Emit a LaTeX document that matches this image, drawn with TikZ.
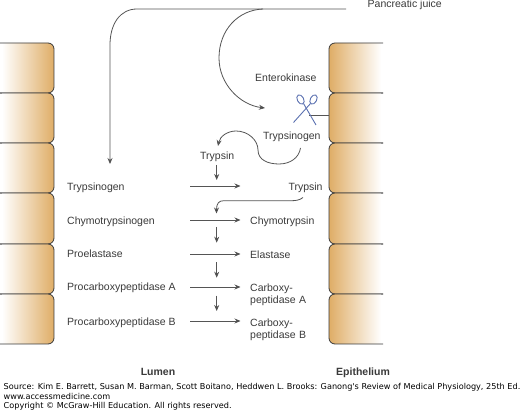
\documentclass[tikz,border=0pt]{standalone}
\usepackage{fontspec}
\setmainfont{Liberation Sans}
\newfontfamily\srcfont{DejaVu Sans}
\usetikzlibrary{arrows.meta}
\definecolor{tan}{HTML}{DFAD66}
\definecolor{ink}{HTML}{3A3A3A}
\definecolor{linec}{HTML}{555555}
\definecolor{sciss}{HTML}{5A70B0}
\newcommand{\lcell}[2]{%
  \begin{scope}
  \clip[rounded corners=6pt] (-12,#1) rectangle (54,#2);
  \shade[left color=white,right color=tan] (2,#1) rectangle (54,#2);
  \end{scope}
  \draw[cellline,rounded corners=6pt] (-12,#1) -- (54,#1) -- (54,#2) -- (-12,#2);}
\newcommand{\rcell}[2]{%
  \begin{scope}
  \clip[rounded corners=6pt] (329,#1) rectangle (395,#2);
  \shade[left color=tan,right color=white] (329,#1) rectangle (381,#2);
  \end{scope}
  \draw[cellline,rounded corners=6pt] (383,#1) -- (329,#1) -- (329,#2) -- (383,#2);}
\tikzset{
  cellline/.style={draw=ink,line width=0.8pt},
  lab/.style={font=\fontsize{10.5}{12.6}\selectfont,text=ink,inner sep=0pt},
  labl/.style={lab,anchor=base west,align=left},
  labtwo/.style={lab,anchor=north west,align=left,text width=70pt},
  flow/.style={draw=linec,line width=0.8pt,-{Stealth[length=6pt,width=5pt,fill=black]}},
  plain/.style={draw=linec,line width=0.8pt},
  src/.style={font=\srcfont\fontsize{8.14}{9}\selectfont,text=black,inner sep=0pt,anchor=base west},
  head/.style={font=\bfseries\fontsize{10.5}{12.5}\selectfont,text=ink,inner sep=0pt,anchor=base}
}
\begin{document}
\begin{tikzpicture}[x=1pt,y=-1pt]
\useasboundingbox (0,0) rectangle (520,411);
\fill[white] (0,0) rectangle (520,411);
\begin{scope}
\clip (0,30) rectangle (383,350);
\lcell{43}{93}\lcell{93}{143}\lcell{143}{193}\lcell{193}{244}\lcell{244}{294}\lcell{294}{344}
\rcell{43}{93}\rcell{93}{143}\rcell{143}{193}\rcell{193}{244}\rcell{244}{294}\rcell{294}{344}
\end{scope}
% labels
\node[labl] (juice) at (367.5,8) {Pancreatic juice};
\node[labl] (ek) at (255,81.3) {Enterokinase};
\node[labl] (tg2) at (263,139.3) {Trypsinogen};
\node[labl] (t1) at (200,159.3) {Trypsin};
\node[labl] (tg) at (67,190.7) {Trypsinogen};
\node[labl] (ct) at (67,224.3) {Chymotrypsinogen};
\node[labl] (pe) at (67,258) {Proelastase};
\node[labl] (pa) at (67,291) {Procarboxypeptidase A};
\node[labl] (pb) at (67,325.3) {Procarboxypeptidase B};
\node[labl] (t2) at (288.3,190.7) {Trypsin};
\node[labl] (cht) at (250,224.3) {Chymotrypsin};
\node[labl] (el) at (250,258.3) {Elastase};
\node[labtwo] (ca) at (250,283.2) {Carboxy-\\peptidase A};
\node[labtwo] (cb) at (250,318.2) {Carboxy-\\peptidase B};
\node[head] (lumen) at (158,376) {Lumen};
\node[head] (epi) at (363,376) {Epithelium};
\node[src] (s1) at (3.5,389.3) {Source: Kim E. Barrett, Susan M. Barman, Scott Boitano, Heddwen L. Brooks: Ganong's Review of Medical Physiology, 25th Ed.};
\node[src] (s2) at (3.5,399.3) {www.accessmedicine.com};
\node[src] (s3) at (3.5,409) {Copyright © McGraw-Hill Education.  All rights reserved.};
% free ends
\coordinate (topend) at (346,9);
\coordinate (split) at (263,9);
\coordinate (bigend) at (110,164);
\coordinate (ekend) at (265,108);
\coordinate (t1end) at (218,146);
% pancreatic juice lines
\draw[flow] (topend) -- (137,9) .. controls (120,9) and (110,24) .. (110,45) -- (bigend);
\draw[flow] (split) .. controls (238,10) and (219,30) .. (219,58) .. controls (219,84) and (240,105) .. (ekend);
% trypsinogen to trypsin curve
\draw[flow] (300.5,148) .. controls (299,158) and (290,164) .. (279,164) .. controls (268,164) and (258,160) .. (258,150) .. controls (258,140) and (248,131) .. (236,131) .. controls (228,131) and (220,136) .. (t1end);
% horizontal reactions
\foreach \y/\n in {186/a,220/b,254/c,287/d,321/e}{
  \coordinate (h\n s) at (190,\y); \coordinate (h\n e) at (240.5,\y);
  \draw[flow] (h\n s) -- (h\n e);}
% vertical arrows
\foreach \x/\a/\b/\n in {216.7/165/180/a,216.7/227/242.7/b,216.7/262.3/277.7/c,216.7/295.7/311/d}{
  \coordinate (v\n s) at (\x,\a); \coordinate (v\n e) at (\x,\b);
  \draw[flow] (v\n s) -- (v\n e);}
% trypsin feedback
\coordinate (t2s) at (303,197.5);
\coordinate (t2e) at (216.5,213.5);
\draw[flow] (t2s) .. controls (300,200) and (296,200.7) .. (292,200.7) -- (224,200.7) .. controls (219,200.7) and (216.5,203) .. (t2e);
% scissors
\begin{scope}[sciss/.style={draw=sciss,line width=0.9pt}]
\draw[plain] (309,115.5) -- (329,115.5);
\draw[sciss] (293.5,122.5) -- (310.5,103.5);
\draw[sciss] (316,125) -- (303.5,103.5);
\draw[sciss,rotate around={-62:(300.5,99.5)}] (300.5,99.5) ellipse (5pt and 3.2pt);
\draw[sciss,rotate around={62:(313.5,99.5)}] (313.5,99.5) ellipse (5pt and 3.2pt);
\end{scope}
\end{tikzpicture}
\end{document}
